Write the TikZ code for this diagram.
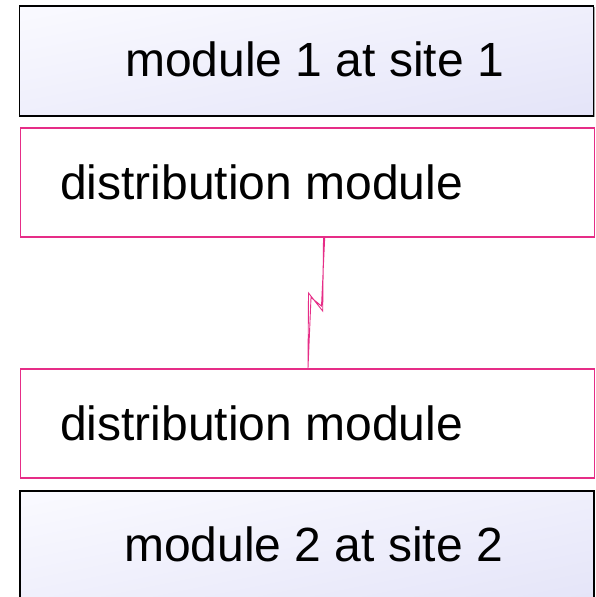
\documentclass[tikz,border=0pt]{standalone}
\usepackage{fontspec}
\setmainfont{Liberation Sans}
\usetikzlibrary{shadows,shadings}
\definecolor{pinkline}{RGB}{230,45,135}
\definecolor{lav}{RGB}{228,228,248}
\definecolor{lavlight}{RGB}{250,250,255}
\begin{document}
\begin{tikzpicture}[x=1pt,y=-1pt,
  modbox/.style={draw=black, line width=1.6pt, rectangle, inner sep=0pt,
    drop shadow={shadow xshift=1.2pt, shadow yshift=-1.2pt, opacity=0.35, fill=black},
    shade, upper left=lavlight, lower right=lav, upper right=lav!50!lavlight, lower left=lav!50!lavlight},
  distbox/.style={draw=pinkline, line width=1.8pt, rectangle, fill=white, inner sep=0pt},
  lbl/.style={anchor=base west, inner sep=0pt, font=\fontsize{48}{58}\selectfont},
  bolt/.style={draw=pinkline, line width=0.9pt, line join=miter}]
\useasboundingbox (0,0) rectangle (596,597);
\fill[white] (0,0) rectangle (596,597);
% boxes
\node[modbox, minimum width=574pt, minimum height=110pt] (m1) at (306.5,61) {};
\node[distbox, minimum width=574pt, minimum height=109pt] (d1) at (307.5,182.5) {};
\node[distbox, minimum width=574pt, minimum height=109pt] (d2) at (307.5,423.5) {};
\node[modbox, minimum width=574pt, minimum height=116pt] (m2) at (307,549) {};
% labels
\node[lbl] (t1) at (125,76) {module 1 at site 1};
\node[lbl] (t2) at (60,199) {distribution module};
\node[lbl] (t3) at (60,440) {distribution module};
\node[lbl] (t4) at (124,561.5) {module 2 at site 2};
% lightning connector
\coordinate (ba) at (d1.south -| 323.5,0);
\coordinate (bb) at (322.7,311);
\coordinate (bc) at (308.5,293);
\coordinate (bd) at (d2.north -| 308,0);
\coordinate (be) at (311,297.5);
\coordinate (bf) at (321.5,306);
\coordinate (bg) at (d1.south -| 324.7,0);
\draw[bolt] (ba) -- (bb) -- (bc) -- (bd) -- (be) -- (bf) -- (bg);
\end{tikzpicture}
\end{document}
